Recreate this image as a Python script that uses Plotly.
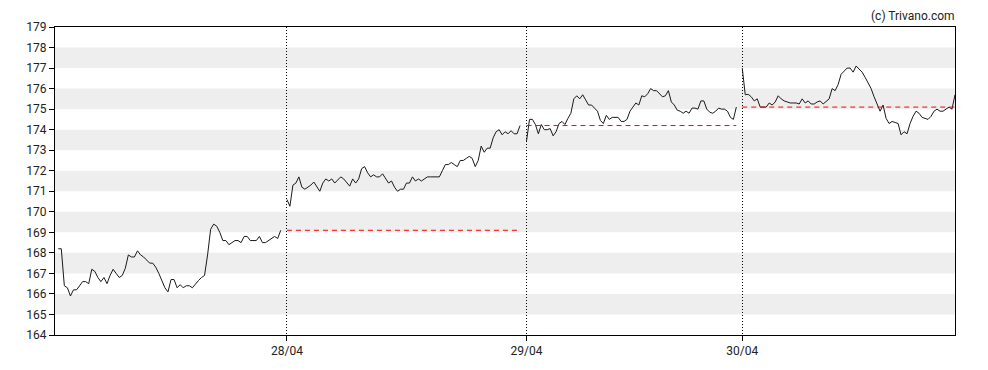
import plotly.graph_objects as go

# ---- data ----
day_labels = ["27/04", "28/04", "29/04", "30/04"]
# session position on a 5-minute-bar time axis
session_start = [1.1, 78.6, 159.8, 232.9]
session_end = [76.5, 157.6, 230.9, 305.0]

day1 = [168.2, 168.2, 166.4, 166.3, 165.9, 166.2, 166.2, 166.4, 166.6, 166.6,
        166.5, 167.2, 167.1, 166.8, 166.6, 166.8, 166.5, 166.9, 167.2, 167.0,
        166.8, 166.9, 167.25, 167.9, 167.8, 167.8, 168.1, 167.9, 167.8, 167.65,
        167.5, 167.5, 167.3, 167.0, 166.6, 166.3, 166.1, 166.7, 166.7, 166.3,
        166.45, 166.3, 166.4, 166.4, 166.3, 166.5, 166.65, 166.8, 166.9, 167.9,
        169.15, 169.4, 169.3, 169.0, 168.6, 168.6, 168.4, 168.5, 168.6, 168.6,
        168.5, 168.8, 168.8, 168.6, 168.6, 168.6, 168.8, 168.5, 168.5, 168.6,
        168.7, 168.8, 168.7, 169.1]

day2 = [170.6, 170.27, 171.3, 171.4, 171.7, 171.2, 171.1, 171.2, 171.3, 171.45,
        171.25, 171.0, 171.4, 171.6, 171.5, 171.6, 171.4, 171.55, 171.7, 171.6,
        171.45, 171.25, 171.6, 171.4, 171.6, 172.1, 172.2, 171.9, 171.7, 171.8,
        171.7, 171.7, 171.85, 171.6, 171.4, 171.5, 171.2, 171.0, 171.1, 171.1,
        171.4, 171.4, 171.7, 171.5, 171.6, 171.5, 171.6, 171.7, 171.7, 171.7,
        171.7, 171.7, 172.0, 172.3, 172.3, 172.4, 172.3, 172.2, 172.5, 172.5,
        172.6, 172.7, 172.6, 172.2, 172.5, 173.2, 172.9, 173.1, 173.1, 173.6,
        173.9, 174.0, 173.75, 173.9, 173.8, 173.95, 173.8, 173.8, 174.2]

day3 = [173.45, 174.5, 174.5, 174.25, 173.8, 174.25, 174.0, 174.0, 174.05, 173.7,
        173.9, 174.3, 174.4, 174.25, 174.55, 174.8, 175.5, 175.65, 175.5, 175.7,
        175.45, 175.2, 175.2, 175.05, 174.9, 174.45, 174.3, 174.7, 174.5, 174.6,
        174.6, 174.6, 174.4, 174.4, 174.5, 174.9, 175.1, 175.3, 175.2, 175.65,
        175.6, 175.75, 176.0, 175.9, 175.9, 175.75, 175.6, 175.65, 175.9, 175.35,
        175.2, 174.95, 174.9, 174.8, 174.9, 174.8, 175.05, 175.05, 175.0, 175.4,
        175.4, 175.0, 174.85, 174.8, 174.9, 175.05, 175.0, 175.0, 174.9, 174.6,
        174.5, 175.1]

day4 = [177.0, 175.7, 175.72, 175.6, 175.4, 175.5, 175.1, 175.1, 175.1, 175.3,
        175.2, 175.35, 175.65, 175.5, 175.4, 175.35, 175.3, 175.3, 175.3, 175.25,
        175.5, 175.3, 175.4, 175.25, 175.25, 175.35, 175.4, 175.25, 175.4, 175.5,
        176.0, 175.9, 176.2, 176.7, 176.85, 177.0, 177.0, 176.8, 177.1, 176.95,
        176.8, 176.55, 176.3, 176.0, 175.6, 175.2, 174.9, 175.2, 174.55, 174.3,
        174.4, 174.35, 174.3, 173.75, 173.9, 173.8, 174.3, 174.65, 174.9, 174.8,
        174.6, 174.55, 174.5, 174.65, 174.9, 175.0, 174.9, 174.9, 175.0, 175.1,
        175.0, 175.7]

days = [day1, day2, day3, day4]
y_ticks = list(range(164, 180))
band_lows = [v for v in y_ticks[:-1] if v % 2 == 1]  # 165,167,...,177

LINE = "#1a1a1a"
TEXT = "#222222"

fig = go.Figure()

for i, vals in enumerate(days):
    n = len(vals)
    s, e = session_start[i], session_end[i]
    xs = [s + (e - s) * k / (n - 1) for k in range(n)]
    fig.add_trace(go.Scatter(x=xs, y=vals, mode="lines",
                             line=dict(color=LINE, width=1),
                             hoverinfo="skip", showlegend=False))
    if i > 0:
        prev_close = days[i - 1][-1]
        fig.add_trace(go.Scatter(x=[s, e], y=[prev_close, prev_close], mode="lines",
                                 line=dict(color="#ff0000", width=1, dash="5px,4px"),
                                 hoverinfo="skip", showlegend=False))

shapes = [dict(type="rect", xref="paper", yref="y", x0=0, x1=1, y0=lo, y1=lo + 1,
               fillcolor="#eeeeee", line=dict(width=0), layer="below")
          for lo in band_lows]

fig.update_layout(
    width=980, height=362,
    margin=dict(l=47, r=33, t=12, b=35),
    paper_bgcolor="white", plot_bgcolor="white",
    shapes=shapes,
    font=dict(family="Roboto, Arial, sans-serif", size=12, color=TEXT),
    xaxis=dict(range=[0, 305], tickvals=session_start[1:], ticktext=day_labels[1:],
               ticks="outside", ticklen=5, tickcolor="black",
               showline=True, linecolor="black", linewidth=1, mirror=True,
               showgrid=True, gridcolor="black", gridwidth=1, griddash="1px,2px",
               zeroline=False, fixedrange=True),
    yaxis=dict(range=[164, 179], tickvals=y_ticks, ticks="outside", ticklen=5,
               tickcolor="black", showline=True, linecolor="black", linewidth=1,
               mirror=True, showgrid=False, zeroline=False, fixedrange=True),
    annotations=[dict(text="(c) Trivano.com", xref="paper", yref="paper",
                      x=1.002, y=1.0, xanchor="right", yanchor="bottom",
                      yshift=2, showarrow=False,
                      font=dict(size=12, color=TEXT))],
)

fig.write_html("out.html")
